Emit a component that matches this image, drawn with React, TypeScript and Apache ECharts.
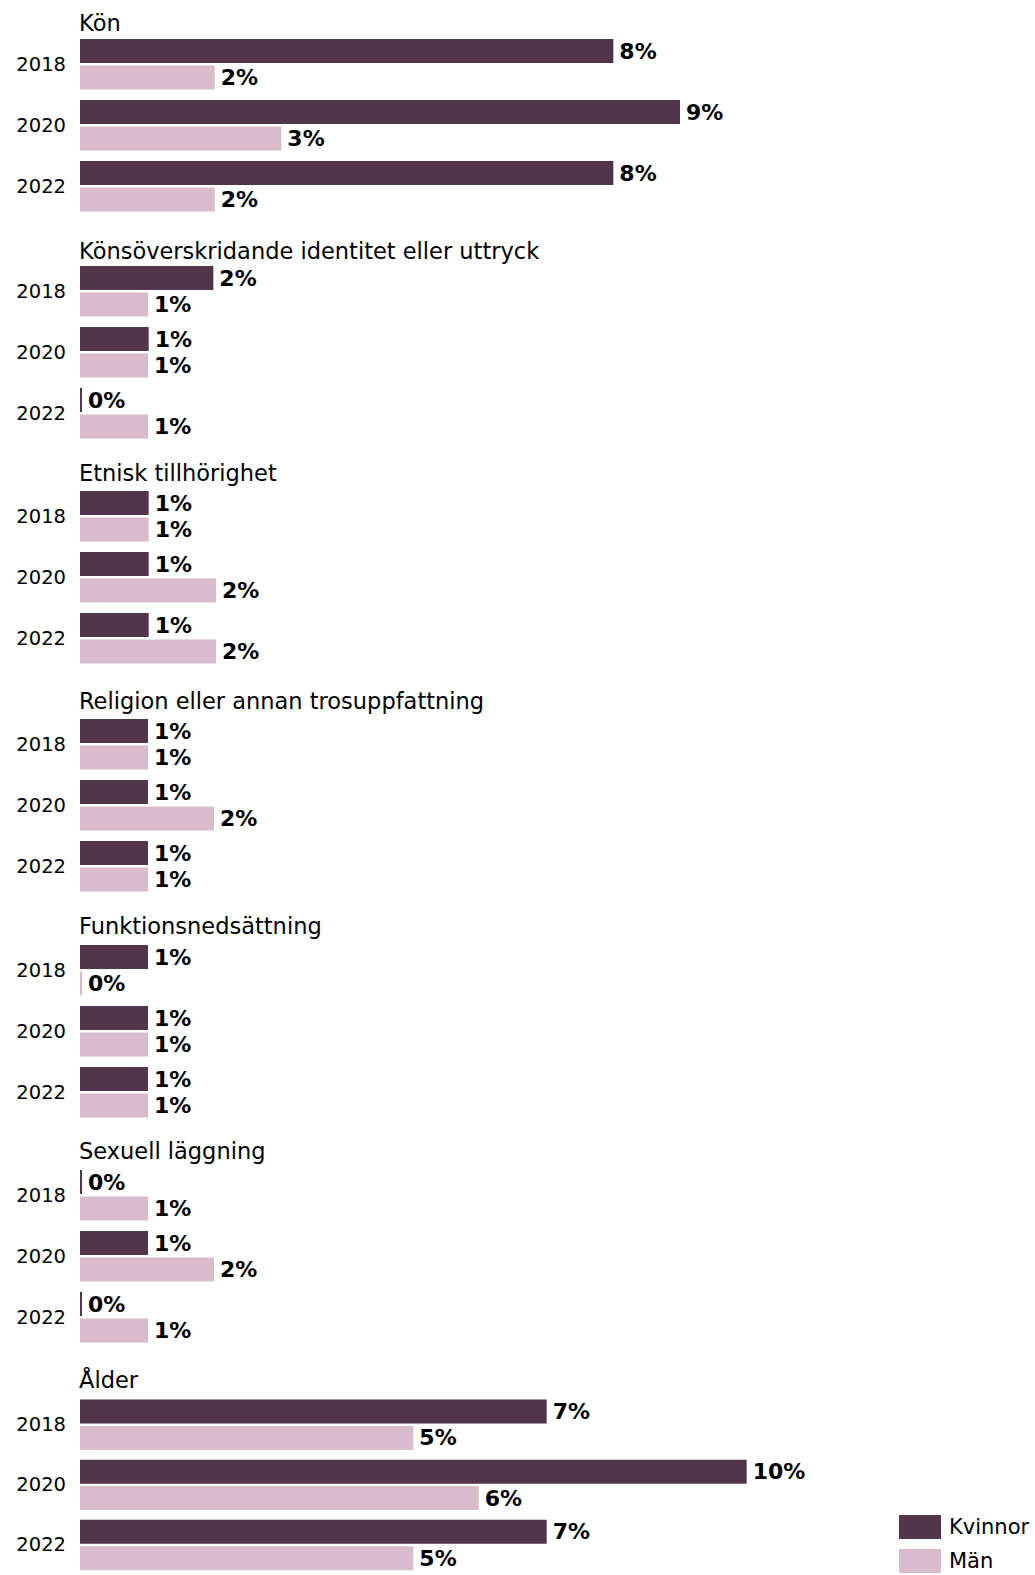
import React, { useEffect, useRef } from "react";
import * as echarts from "echarts";

const years = ["2018", "2020", "2022"];
const groupTitles = [
  "Kön",
  "Könsöverskridande identitet eller uttryck",
  "Etnisk tillhörighet",
  "Religion eller annan trosuppfattning",
  "Funktionsnedsättning",
  "Sexuell läggning",
  "Ålder",
];
// percent values per group, order 2018, 2020, 2022
const kvinnorValues = [
  [8.0, 9.0, 8.0],
  [2.0, 1.03, 0.03],
  [1.03, 1.03, 1.03],
  [1.02, 1.02, 1.02],
  [1.02, 1.02, 1.02],
  [0.03, 1.02, 0.03],
  [7.0, 10.0, 7.0],
];
const manValues = [
  [2.02, 3.02, 2.02],
  [1.02, 1.02, 1.02],
  [1.03, 2.04, 2.04],
  [1.02, 2.01, 1.02],
  [0.03, 1.02, 1.02],
  [1.02, 2.01, 1.02],
  [5.0, 5.98, 5.0],
];
const seriesNames = ["Kvinnor", "Män"];

const COLORS = ["#51354A", "#D8BCCB"];
const FONT = "'DejaVu Sans', sans-serif";
const darkTops = [39, 266, 491, 719, 945, 1170, 1400];
const titleTops = [11, 239, 461, 689, 914, 1139, 1368];

export default function App() {
  const ref = useRef<HTMLDivElement>(null);
  useEffect(() => {
    document.body.style.margin = "0";
    if (!ref.current) return;
    const chart = echarts.init(ref.current, undefined, { renderer: "svg" });
    const grids: any[] = [];
    const xAxes: any[] = [];
    const yAxes: any[] = [];
    const series: any[] = [];
    const titles: any[] = [];
    groupTitles.forEach((t, i) => {
      grids.push({ left: 80, width: 666.67, top: darkTops[i] - 5.3, height: 183 });
      xAxes.push({ type: "value", gridIndex: i, min: 0, max: 10, show: false });
      yAxes.push({
        type: "category",
        gridIndex: i,
        data: years,
        inverse: true,
        axisLine: { show: false },
        axisTick: { show: false },
        splitLine: { show: false },
        axisLabel: {
          fontSize: 19.5,
          color: "#000",
          fontFamily: FONT,
          margin: 14,
          padding: [0, 0, 3, 0],
        },
      });
      titles.push({
        text: t,
        left: 79,
        top: titleTops[i],
        padding: 0,
        textStyle: { fontSize: 22.5, fontWeight: "normal", color: "#000", fontFamily: FONT },
      });
      [kvinnorValues, manValues].forEach((vals, s) => {
        series.push({
          type: "bar",
          name: seriesNames[s],
          xAxisIndex: i,
          yAxisIndex: i,
          data: vals[i],
          barWidth: 24,
          barGap: "10%",
          itemStyle: { color: COLORS[s] },
          label: {
            show: true,
            position: "right",
            distance: 6,
            fontSize: 22,
            fontWeight: "bold",
            color: "#000",
            fontFamily: FONT,
            formatter: (p: any) => `${Math.round(p.value)}%`,
          },
        });
      });
    });
    chart.setOption({
      animation: false,
      title: titles,
      grid: grids,
      xAxis: xAxes,
      yAxis: yAxes,
      series,
      legend: {
        data: seriesNames,
        orient: "vertical",
        left: 899,
        top: 1515,
        padding: 0,
        itemWidth: 42,
        itemHeight: 24,
        itemGap: 10,
        icon: "rect",
        selectedMode: false,
        textStyle: { fontSize: 21, color: "#000", fontFamily: FONT, padding: [0, 0, 0, 3] },
      },
    });
    return () => chart.dispose();
  }, []);
  return <div ref={ref} style={{ width: 1035, height: 1575 }} />;
}
